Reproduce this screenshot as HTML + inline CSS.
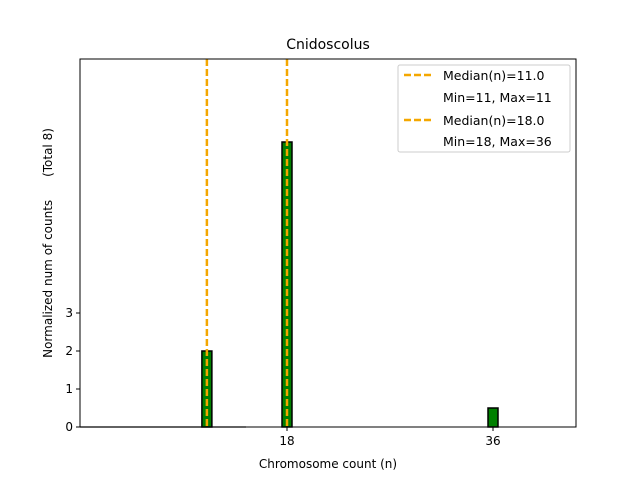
<!DOCTYPE html>
<html><head><meta charset="utf-8"><style>body{margin:0;background:#fff}svg{display:block;font-family:"DejaVu Sans","Liberation Sans",sans-serif}</style></head>
<body>
<svg id="c" width="640" height="480">
<rect x="0" y="0" width="640" height="480" fill="#fff"/>
<g id="plot"></g>
<text x="328" y="49" font-size="14" text-anchor="middle">Cnidoscolus</text>
<text x="328" y="468" font-size="12" text-anchor="middle">Chromosome count (n)</text>
<text transform="translate(52,243) rotate(-90)" font-size="12" text-anchor="middle" style="white-space:pre">Normalized num of counts      (Total 8)</text>
<g>
<rect x="398" y="65" width="172" height="87" fill="#fff" stroke="#ccc" rx="2"/>
<line x1="404" y1="75" x2="432" y2="75" stroke="#f4a700" stroke-width="2.5" stroke-dasharray="7,3"/>
<text x="443" y="80" font-size="12.5">Median(n)=11.0</text>
<text x="443" y="102" font-size="12.5">Min=11, Max=11</text>
<line x1="404" y1="120" x2="432" y2="120" stroke="#f4a700" stroke-width="2.5" stroke-dasharray="7,3"/>
<text x="443" y="125" font-size="12.5">Median(n)=18.0</text>
<text x="443" y="146" font-size="12.5">Min=18, Max=36</text>
</g>
</svg>
<script>
const categories=[11,18,36];
const values=[2,7.5,0.5];
const medians=[11,18];
const yTicks=[0,1,2,3];
const xTicks=[18,36];
const L=80,R=576,T=59,B=427;
const xs=v=>287+(v-18)*(206/18);
const ys=v=>B-v*38;
const g=document.getElementById('plot');
const NS='http://www.w3.org/2000/svg';
function mk(t,a){const e=document.createElementNS(NS,t);for(const k in a)e.setAttribute(k,a[k]);g.appendChild(e);return e;}
let zl=mk('line',{x1:L,y1:B,x2:246,y2:B,stroke:'#888','stroke-width':1.5});


categories.forEach((c,i)=>{
 const w=10;
 const r=mk('rect',{x:xs(c)-w/2,y:ys(values[i]),width:w,height:B-ys(values[i]),fill:'#008000',stroke:'#000','stroke-width':1.5});
 
 
});
medians.forEach(m=>{
 const l=mk('line',{x1:xs(m),y1:T,x2:xs(m),y2:B,stroke:'#f4a700','stroke-width':2.5,'stroke-dasharray':'7,3'});
 
 
});
const fr=mk('rect',{x:L,y:T,width:R-L,height:B-T,fill:'none',stroke:'#000','stroke-width':1});


yTicks.forEach(v=>{
 mk('line',{x1:L-4,y1:ys(v),x2:L,y2:ys(v),stroke:'#000'});
 const t=mk('text',{x:L-7,y:ys(v)+4,'font-size':12,'text-anchor':'end'});t.textContent=v;
 
 
});
xTicks.forEach(v=>{
 mk('line',{x1:xs(v),y1:B,x2:xs(v),y2:B+4,stroke:'#000'});
 const t=mk('text',{x:xs(v),y:B+18,'font-size':12,'text-anchor':'middle'});t.textContent=v;
 
 
});
</script>
</body></html>
